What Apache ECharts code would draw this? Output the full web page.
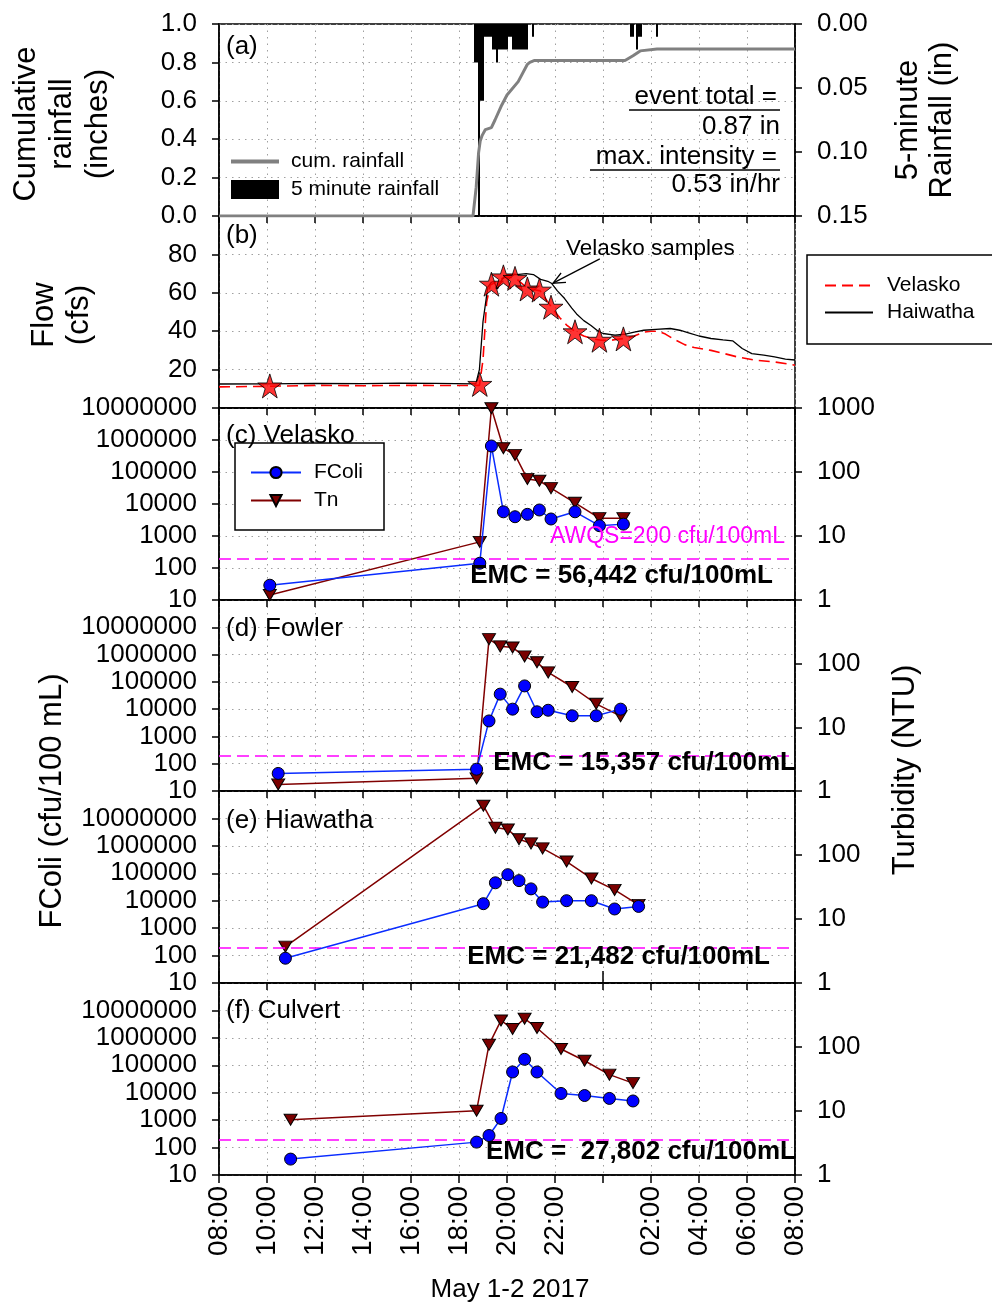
<!DOCTYPE html>
<html>
<head>
<meta charset="utf-8">
<title>Rainfall, flow, FColi and turbidity, May 1-2 2017</title>
<script src="https://cdn.jsdelivr.net/npm/echarts@6/dist/echarts.min.js"></script>
<style>
html,body{margin:0;padding:0;background:#fff;}
#chart{width:992px;height:1304px;}
</style>
</head>
<body>
<div id="chart"></div>
<script>
const FONT = '"Liberation Sans", Arial, Helvetica, sans-serif';

// ---------- tick labels ----------
const timeTickLabels = ['08:00','10:00','12:00','14:00','16:00','18:00','20:00','22:00','','02:00','04:00','06:00','08:00'];
const cumTickLabels  = ['0.0','0.2','0.4','0.6','0.8','1.0'];
const rainTickLabels = ['0.00','0.05','0.10','0.15'];
const flowTickLabels = ['','20','40','60','80',''];
const fcoliTickLabels = ['10','100','1000','10000','100000','1000000','10000000'];
const turbTickLabels  = ['1','10','100','1000'];
const awqs = 200; // cfu/100mL standard

// ---------- (a) rainfall ----------
const rainTimes = ['18:40','18:45','18:50','18:55','19:00','19:05','19:10','19:15','19:20','19:25','19:30','19:35','19:40','19:45','19:50','19:55','20:00','20:05','20:10','20:15','20:20','20:25','20:30','20:35','20:40','20:45','20:50','21:05','01:10','01:15','01:25','01:30','01:35','02:15'];
const rainDepth = [0.03,0.03,0.25,0.06,0.06,0.01,0.01,0.01,0.01,0.02,0.02,0.03,0.02,0.02,0.02,0.02,0.02,0.01,0.01,0.02,0.02,0.02,0.02,0.02,0.02,0.02,0.02,0.01,0.01,0.01,0.02,0.01,0.01,0.01];
const cumTimes = ['08:00','18:35','18:39','18:43','18:49','18:53','18:58','19:06','19:21','19:30','19:45','20:00','20:28','20:51','20:57','21:09','00:55','01:15','01:33','02:15','08:00'];
const cumDepth = [0,0,0,0.15,0.33,0.39,0.42,0.45,0.46,0.50,0.57,0.63,0.70,0.79,0.80,0.81,0.81,0.835,0.86,0.87,0.87];

// ---------- (b) flow ----------
const haiwathaFlowTimes = ['08:00','10:00','12:00','14:00','15:30','17:00','18:42','18:51','19:00','19:12','19:21','19:27','19:36','19:48','20:00','20:24','20:48','21:06','21:24','21:42','21:51','22:06','22:24','22:42','22:54','23:12','23:30','23:48','00:00','00:30','00:54','01:18','01:42','02:12','02:48','03:12','03:36','04:00','04:30','05:00','05:24','05:48','06:12','06:42','07:09','07:36','08:00'];
const haiwathaFlow = [12.5,12.6,12.8,12.7,13.0,12.8,12.6,20,45,63,65.5,66,62,67,69.5,69.5,70,69.5,67,66,65,61,57,52,49,45.5,43,40,38.8,38,38.4,39.5,40.5,41,41.4,40.5,39,37.5,36.2,35.5,35,31,28.3,27.5,26.6,25.5,25];
const velaskoFlowTimes = ['08:00','10:06','12:00','14:00','16:00','18:00','18:51','19:00','19:09','19:18','19:36','19:52','20:12','20:25','20:42','20:53','21:12','21:23','21:36','21:53','22:12','22:30','22:51','23:12','23:36','23:55','00:18','00:36','00:53','01:18','01:42','02:00','02:18','02:36','03:00','03:24','03:48','04:30','05:00','05:36','06:18','07:09','08:00'];
const velaskoFlow = [11.0,11.3,11.8,11.6,11.8,11.7,11.8,25,55,64,66,68,68,67,64,62,61.5,61,57,52,47,43,39.7,37.5,36,35.3,35.2,35.8,36.2,37.5,39.5,40,40,38.5,35.5,33,31.5,30,28.5,26.6,25,24,22.3];

// ---------- sampling sites ----------
const velaskoTimes = ['10:07','18:52','19:21','19:51','20:20','20:51','21:21','21:50','22:50','23:51','00:51'];
const velaskoSampleFlow = [11.5,12.3,64.5,68.3,67.5,62.0,61.4,52.5,39.7,35.3,36.0];
const velaskoFColi = [29,141,650000,5700,4000,4750,6500,3400,5700,2100,2350];
const velaskoTn    = [1.2,8.1,990,235,185,78,73,56,33,19,19];

const fowlerTimes = ['10:28','18:44','19:15','19:43','20:14','20:44','21:15','21:43','22:43','23:43','00:44'];
const fowlerFColi = [44,63,3700,35500,10000,71000,8000,9100,5700,5700,10000];
const fowlerTn    = [1.27,1.58,243,187,179,130,105,73,43,23.4,15];

const hiawathaTimes = ['10:46','19:01','19:31','20:02','20:30','21:00','21:29','22:29','23:31','00:29','01:29'];
const hiawathaFColi = [80,7800,45000,89000,54000,27000,8900,10000,10000,5000,6200];
const hiawathaTn    = [3.7,590,268,251,176,152,127,79,43,28.5,16.6];

const culvertTimes = ['10:59','18:44','19:15','19:45','20:14','20:44','21:15','22:15','23:14','00:16','01:15'];
const culvertFColi = [38,158,275,1150,57000,165000,57000,9400,7900,6200,5000];
const culvertTn    = [7.3,10.1,109,260,191,277,198,93,61,37,27.3];

// annotation arrow (time, flow)
const arrowTip = ['21:55', 65];
const arrowTail = ['23:52', 77.7];

// ---------- helpers ----------
// clock times in order; a step backwards means the next day
function toHours(times) {
  let offset = 0, prev = -Infinity;
  return times.map(t => {
    const [hh, mm] = t.split(':').map(Number);
    let h = hh + mm / 60 + offset;
    if (h < prev) { offset += 24; h += 24; }
    prev = h;
    return h;
  });
}
const pairs = (times, vals) => toHours(times).map((h, i) => [h, vals[i]]);
const lastHour = t => { const [hh, mm] = t.split(':').map(Number); const h = hh + mm / 60; return h < 8 ? h + 24 : h; };

const STAR = 'path://M12,0 L14.9,8.6 L24,8.6 L16.6,14 L19.4,22.8 L12,17.4 L4.6,22.8 L7.4,14 L0,8.6 L9.1,8.6 Z';
const TRI_DOWN = 'path://M0,0 L12,0 L6,10 Z';

const panelTops = [24, 216, 408, 600, 791, 983];
const panelHeights = [192, 192, 192, 191, 192, 192];

const axisLine = {show: true, onZero: false, lineStyle: {color: '#000', width: 1.5}};
const axisTick = {show: true, inside: false, length: 7, lineStyle: {color: '#000', width: 1.5}};
const dotted = {show: true, lineStyle: {color: '#a0a0a0', width: 1, type: [1.5, 5]}};
const labelBase = {color: '#000', fontSize: 26, fontFamily: FONT};

const grids = panelTops.map((top, i) => ({
  left: 219, width: 576, top: top, height: panelHeights[i],
  show: true, borderColor: '#000', borderWidth: 1.5, backgroundColor: 'transparent'
}));

const xAxes = panelTops.map((_, i) => ({
  gridIndex: i, type: 'value', min: 8, max: 32, interval: 2,
  axisLine: axisLine, axisTick: i === 5 ? {...axisTick, length: 8} : axisTick, splitLine: dotted,
  axisLabel: i === 5
    ? {...labelBase, fontSize: 28, rotate: 90, margin: 11, formatter: v => timeTickLabels[Math.round((v - 8) / 2)] || ''}
    : {show: false}
}));
// longer tick marking midnight on the bottom axis
xAxes.push({
  gridIndex: 5, type: 'value', min: 8, max: 32, interval: 16, show: true,
  axisLine: {show: false}, splitLine: {show: false}, axisLabel: {show: false},
  axisTick: {show: true, length: 12, lineStyle: {color: '#000', width: 1.5}}
});

function logLeft(gi, max) {
  return {
    gridIndex: gi, type: 'log', logBase: 10, min: 10, max: max, position: 'left',
    axisLine: axisLine, axisTick: axisTick, splitLine: dotted, minorTick: {show: false},
    axisLabel: {...labelBase, margin: 22,
      formatter: v => fcoliTickLabels[Math.round(Math.log10(v)) - 1] || ''}
  };
}
function logRight(gi, hideTop) {
  return {
    gridIndex: gi, type: 'log', logBase: 10, min: 1, max: 1000, position: 'right',
    axisLine: axisLine, axisTick: axisTick, splitLine: {show: false}, minorTick: {show: false},
    axisLabel: {...labelBase, margin: 22,
      formatter: v => { const k = Math.round(Math.log10(v)); return (hideTop && k === 3) ? '' : (turbTickLabels[k] || ''); }}
  };
}

const yAxes = [
  {gridIndex: 0, type: 'value', min: 0, max: 1, interval: 0.2, position: 'left',
   axisLine: axisLine, axisTick: axisTick, splitLine: dotted,
   axisLabel: {...labelBase, margin: 22, formatter: v => cumTickLabels[Math.round(v / 0.2)]}},
  {gridIndex: 0, type: 'value', min: 0, max: 0.15, interval: 0.05, inverse: true, position: 'right',
   axisLine: axisLine, axisTick: axisTick, splitLine: {show: false},
   axisLabel: {...labelBase, margin: 22, formatter: v => rainTickLabels[Math.round(v / 0.05)]}},
  {gridIndex: 1, type: 'value', min: 0, max: 100, interval: 20, position: 'left',
   axisLine: axisLine, axisTick: axisTick, splitLine: dotted,
   axisLabel: {...labelBase, margin: 22, formatter: v => flowTickLabels[Math.round(v / 20)]}},
  logLeft(2, 1e7), logRight(2, false),
  logLeft(3, 1e8), logRight(3, true),
  logLeft(4, 1e8), logRight(4, true),
  logLeft(5, 1e8), logRight(5, true)
];

const series = [
  {name: 'cum. rainfall', type: 'line', xAxisIndex: 0, yAxisIndex: 0, data: pairs(cumTimes, cumDepth),
   symbol: 'none', lineStyle: {color: '#808080', width: 3}, itemStyle: {color: '#808080'}, z: 3},
  {name: '5 minute rainfall', type: 'bar', xAxisIndex: 0, yAxisIndex: 1, data: pairs(rainTimes, rainDepth),
   barWidth: 2, clip: true, itemStyle: {color: '#000'}, z: 2},
  {name: 'Velasko', type: 'line', xAxisIndex: 1, yAxisIndex: 2, data: pairs(velaskoFlowTimes, velaskoFlow),
   symbol: 'none', lineStyle: {color: '#ff0000', width: 1.6, type: [11, 6]}, itemStyle: {color: '#ff0000'}, z: 3},
  {name: 'Haiwatha', type: 'line', xAxisIndex: 1, yAxisIndex: 2, data: pairs(haiwathaFlowTimes, haiwathaFlow),
   symbol: 'none', lineStyle: {color: '#000', width: 1.3}, itemStyle: {color: '#000'}, z: 3},
  {name: 'Velasko samples', type: 'scatter', xAxisIndex: 1, yAxisIndex: 2, data: pairs(velaskoTimes, velaskoSampleFlow),
   symbol: STAR, symbolSize: 24, itemStyle: {color: '#ff0000', borderColor: '#000', borderWidth: 1}, z: 5}
];

const stations = [
  {times: velaskoTimes, fcoli: velaskoFColi, tn: velaskoTn},
  {times: fowlerTimes, fcoli: fowlerFColi, tn: fowlerTn},
  {times: hiawathaTimes, fcoli: hiawathaFColi, tn: hiawathaTn},
  {times: culvertTimes, fcoli: culvertFColi, tn: culvertTn}
];
stations.forEach((s, k) => {
  const gi = k + 2, yl = 3 + 2 * k, yr = 4 + 2 * k;
  series.push({
    name: 'Tn', type: 'line', xAxisIndex: gi, yAxisIndex: yr, data: pairs(s.times, s.tn),
    symbol: TRI_DOWN, symbolSize: [13, 11], showAllSymbol: true,
    lineStyle: {color: '#800000', width: 1.5}, itemStyle: {color: '#7a0000', borderColor: '#000', borderWidth: 1}, z: 4
  });
  series.push({
    name: 'FColi', type: 'line', xAxisIndex: gi, yAxisIndex: yl, data: pairs(s.times, s.fcoli),
    symbol: 'circle', symbolSize: 12, showAllSymbol: true,
    lineStyle: {color: '#0a2cff', width: 1.5}, itemStyle: {color: '#0000ff', borderColor: '#000', borderWidth: 1}, z: 5,
    markLine: {silent: true, symbol: 'none', label: {show: false}, animation: false,
      lineStyle: {color: '#ff00ff', width: 1.5, type: [12, 6]}, data: [{yAxis: awqs}]}
  });
});

// plain line swatches (no marker) for the line-only series
const lineOnly = (name, lineStyle) => ({name: name, lineStyle: lineStyle,
  itemStyle: {opacity: 0, color: 'transparent', borderColor: 'transparent', borderWidth: 0}});
const legendText = {fontSize: 21, fontFamily: FONT, color: '#000'};
const option = {
  animation: false,
  backgroundColor: '#fff',
  textStyle: {fontFamily: FONT, color: '#000'},
  grid: grids, xAxis: xAxes, yAxis: yAxes, series: series,
  legend: [
    {data: [lineOnly('cum. rainfall', {width: 4, color: '#808080'}), {name: '5 minute rainfall', icon: 'rect'}], orient: 'vertical',
     left: 229, top: 151, itemWidth: 48, itemHeight: 19, itemGap: 7, padding: 0, selectedMode: false,
     textStyle: {...legendText, padding: [0, 0, 0, 7]}},
    {data: [lineOnly('Velasko'), lineOnly('Haiwatha')], orient: 'vertical', left: 807, top: 255,
     itemWidth: 48, itemHeight: 14, itemGap: 6, padding: [20, 40, 21, 17],
     borderColor: '#000', borderWidth: 1.5, backgroundColor: '#fff', selectedMode: false,
     textStyle: {...legendText, padding: [0, 0, 0, 9]}},
    {data: ['FColi', 'Tn'], orient: 'vertical', left: 235, top: 443,
     itemWidth: 50, itemHeight: 14, itemGap: 7, padding: [19, 21, 19, 15],
     borderColor: '#000', borderWidth: 1.5, backgroundColor: '#fff', selectedMode: false,
     textStyle: {...legendText, padding: [0, 0, 0, 8]}}
  ]
};

const chart = echarts.init(document.getElementById('chart'), null, {renderer: 'canvas'});
chart.setOption(option);

// ---------- text, titles and annotations ----------
function txt(text, x, y, o = {}) {
  const align = o.align || 'left';
  return {
    type: 'text', x: x, y: y, z: 100, rotation: o.rot || 0,
    style: {text: text, fill: o.fill || '#000', font: o.font || `26px ${FONT}`,
      align: align, verticalAlign: 'middle', textAlign: align, textVerticalAlign: 'middle',
      lineHeight: o.lh}
  };
}
function hline(x1, x2, y) {
  return {type: 'line', z: 100, shape: {x1: x1, y1: y, x2: x2, y2: y}, style: {stroke: '#000', lineWidth: 1.5}};
}
const R = Math.PI / 2;
const tip = chart.convertToPixel({xAxisIndex: 1, yAxisIndex: 2}, [lastHour(arrowTip[0]), arrowTip[1]]);
const tail = chart.convertToPixel({xAxisIndex: 1, yAxisIndex: 2}, [lastHour(arrowTail[0]), arrowTail[1]]);
const ang = Math.atan2(tail[1] - tip[1], tail[0] - tip[0]);
const headLen = 13, spread = 0.42;
const head = [
  [tip[0] + headLen * Math.cos(ang + spread), tip[1] + headLen * Math.sin(ang + spread)],
  [tip[0], tip[1]],
  [tip[0] + headLen * Math.cos(ang - spread), tip[1] + headLen * Math.sin(ang - spread)]
];

const graphics = [
  // axis titles
  txt('Cumulative\nrainfall\n(inches)', 62, 124, {rot: R, align: 'center', font: `31px ${FONT}`, lh: 36}),
  txt('Flow\n(cfs)', 62, 315, {rot: R, align: 'center', font: `31px ${FONT}`, lh: 35}),
  txt('FColi (cfu/100 mL)', 52, 801, {rot: R, align: 'center', font: `31px ${FONT}`}),
  txt('5-minute\nRainfall (in)', 925, 120, {rot: R, align: 'center', font: `31px ${FONT}`, lh: 34}),
  txt('Turbidity (NTU)', 905, 770, {rot: R, align: 'center', font: `31px ${FONT}`}),
  txt('May 1-2 2017', 510, 1290, {align: 'center', font: `26px ${FONT}`}),
  // panel tags
  txt('(a)', 226, 47), txt('(b)', 226, 236), txt('(c) Velasko', 226, 436),
  txt('(d) Fowler', 226, 629), txt('(e) Hiawatha', 226, 821), txt('(f) Culvert', 226, 1011),
  // rainfall summary
  txt('event total =', 777, 97, {align: 'right'}), hline(629, 780, 110),
  txt('0.87 in', 780, 127, {align: 'right'}),
  txt('max. intensity =', 777, 157, {align: 'right'}), hline(590, 780, 170),
  txt('0.53 in/hr', 780, 185, {align: 'right'}),
  // flow annotation
  txt('Velasko samples', 566, 249, {font: `22.5px ${FONT}`}),
  {type: 'line', z: 100, shape: {x1: tail[0], y1: tail[1], x2: tip[0], y2: tip[1]}, style: {stroke: '#000', lineWidth: 1.3}},
  {type: 'polyline', z: 100, shape: {points: head}, style: {stroke: '#000', lineWidth: 1.3, fill: null}},
  // standards and EMC
  txt('AWQS=200 cfu/100mL', 785, 537, {align: 'right', fill: '#ff00ff', font: `23px ${FONT}`}),
  txt('EMC = 56,442 cfu/100mL', 773, 576, {align: 'right', font: `bold 26px ${FONT}`}),
  txt('EMC = 15,357 cfu/100mL', 796, 763, {align: 'right', font: `bold 26px ${FONT}`}),
  txt('EMC = 21,482 cfu/100mL', 770, 957, {align: 'right', font: `bold 26px ${FONT}`}),
  txt('EMC =  27,802 cfu/100mL', 796, 1152, {align: 'right', font: `bold 26px ${FONT}`})
];
chart.setOption({graphic: {elements: graphics}});
</script>
</body>
</html>
